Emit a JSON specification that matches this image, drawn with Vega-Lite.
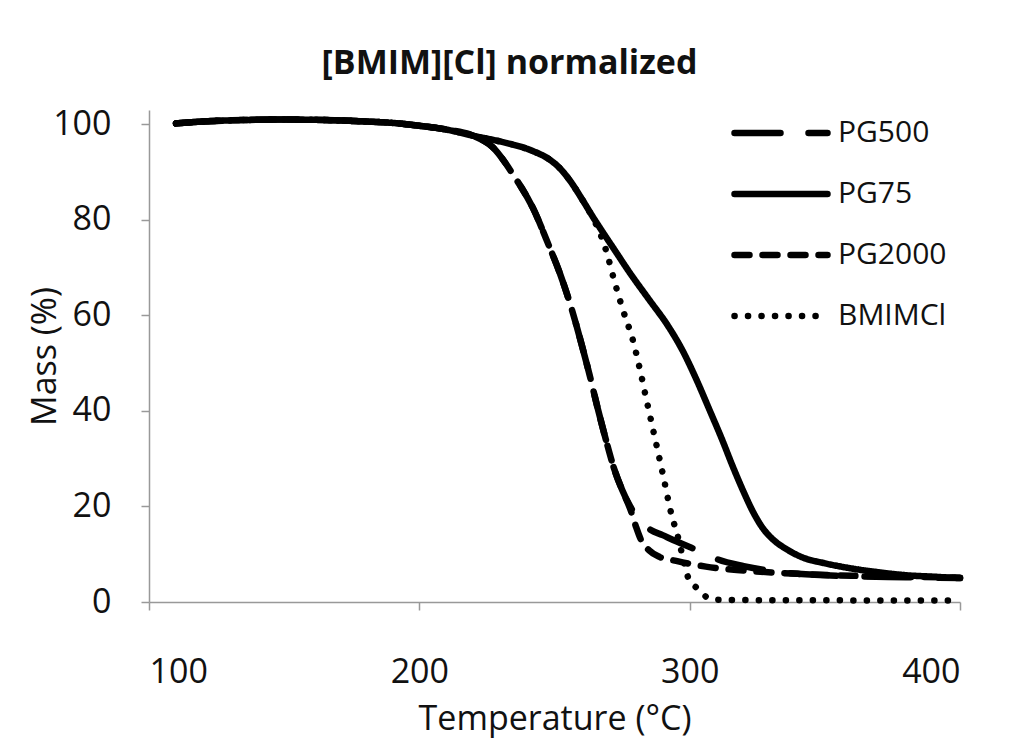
{
  "$schema": "https://vega.github.io/schema/vega-lite/v6.json",
  "width": 811,
  "height": 492,
  "autosize": "none",
  "padding": {"left": 149, "top": 110, "right": 52, "bottom": 140},
  "background": "white",
  "title": {"text": "[BMIM][Cl] normalized", "font": "Open Sans", "fontSize": 34, "fontWeight": "bold", "color": "#111", "anchor": "middle", "dx": -45, "offset": 23},
  "config": {
    "view": {"stroke": null},
    "axis": {"grid": false, "domainColor": "#999", "tickColor": "#999", "domainWidth": 1.5, "tickWidth": 1.5, "tickSize": 8, "labelFont": "Open Sans", "titleFont": "Open Sans", "labelColor": "#111", "titleColor": "#111", "labelFontSize": 34, "titleFontSize": 34, "titleFontWeight": "normal"}
  },
  "data": {"values": [
    {"series": "PG500", "T": 110, "mass": 100.2}, {"series": "PG500", "T": 120, "mass": 100.6}, {"series": "PG500", "T": 135, "mass": 100.9}, {"series": "PG500", "T": 150, "mass": 101.0}, {"series": "PG500", "T": 165, "mass": 100.9}, {"series": "PG500", "T": 180, "mass": 100.6}, {"series": "PG500", "T": 190, "mass": 100.3}, {"series": "PG500", "T": 200, "mass": 99.7}, {"series": "PG500", "T": 210, "mass": 98.9}, {"series": "PG500", "T": 220, "mass": 97.6},
    {"series": "PG500", "T": 227, "mass": 95.3}, {"series": "PG500", "T": 235, "mass": 89.2}, {"series": "PG500", "T": 242, "mass": 82.5}, {"series": "PG500", "T": 248, "mass": 74.5}, {"series": "PG500", "T": 252, "mass": 68.8}, {"series": "PG500", "T": 256, "mass": 62}, {"series": "PG500", "T": 260, "mass": 54}, {"series": "PG500", "T": 263, "mass": 47.5}, {"series": "PG500", "T": 266, "mass": 40.5}, {"series": "PG500", "T": 269, "mass": 34}, {"series": "PG500", "T": 272, "mass": 28}, {"series": "PG500", "T": 275, "mass": 23.5}, {"series": "PG500", "T": 278, "mass": 20},
    {"series": "PG500", "T": 281, "mass": 17.5}, {"series": "PG500", "T": 285, "mass": 15.3}, {"series": "PG500", "T": 290, "mass": 14}, {"series": "PG500", "T": 295, "mass": 12.7}, {"series": "PG500", "T": 300, "mass": 11.5}, {"series": "PG500", "T": 304, "mass": 10.6}, {"series": "PG500", "T": 310, "mass": 9}, {"series": "PG500", "T": 320, "mass": 7.5}, {"series": "PG500", "T": 330, "mass": 6.5}, {"series": "PG500", "T": 340, "mass": 5.9}, {"series": "PG500", "T": 360, "mass": 5.4}, {"series": "PG500", "T": 380, "mass": 5.2}, {"series": "PG500", "T": 400, "mass": 5.0},

    {"series": "PG2000", "T": 110, "mass": 100.2}, {"series": "PG2000", "T": 120, "mass": 100.6}, {"series": "PG2000", "T": 135, "mass": 100.9}, {"series": "PG2000", "T": 150, "mass": 101.0}, {"series": "PG2000", "T": 165, "mass": 100.9}, {"series": "PG2000", "T": 180, "mass": 100.6}, {"series": "PG2000", "T": 190, "mass": 100.3}, {"series": "PG2000", "T": 200, "mass": 99.7}, {"series": "PG2000", "T": 210, "mass": 98.9}, {"series": "PG2000", "T": 220, "mass": 97.6},
    {"series": "PG2000", "T": 227, "mass": 95.3}, {"series": "PG2000", "T": 235, "mass": 89.2}, {"series": "PG2000", "T": 242, "mass": 82.5}, {"series": "PG2000", "T": 248, "mass": 74.5}, {"series": "PG2000", "T": 252, "mass": 68.8}, {"series": "PG2000", "T": 256, "mass": 62}, {"series": "PG2000", "T": 260, "mass": 54}, {"series": "PG2000", "T": 263, "mass": 47.5}, {"series": "PG2000", "T": 266, "mass": 40.5}, {"series": "PG2000", "T": 269, "mass": 34}, {"series": "PG2000", "T": 272, "mass": 28}, {"series": "PG2000", "T": 275, "mass": 23.5}, {"series": "PG2000", "T": 278, "mass": 19.5},
    {"series": "PG2000", "T": 280, "mass": 16}, {"series": "PG2000", "T": 282, "mass": 13}, {"series": "PG2000", "T": 285, "mass": 10.8}, {"series": "PG2000", "T": 289, "mass": 9.4}, {"series": "PG2000", "T": 295, "mass": 8.6}, {"series": "PG2000", "T": 300, "mass": 8.0}, {"series": "PG2000", "T": 306, "mass": 7.4}, {"series": "PG2000", "T": 320, "mass": 6.6}, {"series": "PG2000", "T": 340, "mass": 5.9}, {"series": "PG2000", "T": 360, "mass": 5.5}, {"series": "PG2000", "T": 380, "mass": 5.3}, {"series": "PG2000", "T": 400, "mass": 5.1},

    {"series": "PG75", "T": 110, "mass": 100.2}, {"series": "PG75", "T": 120, "mass": 100.6}, {"series": "PG75", "T": 135, "mass": 100.9}, {"series": "PG75", "T": 150, "mass": 101.0}, {"series": "PG75", "T": 165, "mass": 100.9}, {"series": "PG75", "T": 180, "mass": 100.6}, {"series": "PG75", "T": 190, "mass": 100.3}, {"series": "PG75", "T": 200, "mass": 99.7}, {"series": "PG75", "T": 210, "mass": 98.9}, {"series": "PG75", "T": 220, "mass": 97.6},
    {"series": "PG75", "T": 230, "mass": 96.4}, {"series": "PG75", "T": 242, "mass": 94.4}, {"series": "PG75", "T": 248, "mass": 92.7}, {"series": "PG75", "T": 252, "mass": 90.8}, {"series": "PG75", "T": 256, "mass": 88.0}, {"series": "PG75", "T": 260, "mass": 84.5}, {"series": "PG75", "T": 264, "mass": 80.8}, {"series": "PG75", "T": 268, "mass": 77.3}, {"series": "PG75", "T": 272, "mass": 73.9}, {"series": "PG75", "T": 278, "mass": 68.8}, {"series": "PG75", "T": 285, "mass": 63.3}, {"series": "PG75", "T": 292, "mass": 57.8}, {"series": "PG75", "T": 297.6, "mass": 52.4}, {"series": "PG75", "T": 302, "mass": 47.2}, {"series": "PG75", "T": 307.5, "mass": 40}, {"series": "PG75", "T": 312, "mass": 34}, {"series": "PG75", "T": 316, "mass": 28.3}, {"series": "PG75", "T": 320, "mass": 23}, {"series": "PG75", "T": 323.5, "mass": 18.8}, {"series": "PG75", "T": 327, "mass": 15.5}, {"series": "PG75", "T": 331, "mass": 13}, {"series": "PG75", "T": 336, "mass": 11}, {"series": "PG75", "T": 341, "mass": 9.5}, {"series": "PG75", "T": 350, "mass": 8.1}, {"series": "PG75", "T": 359, "mass": 7.1}, {"series": "PG75", "T": 370, "mass": 6.2}, {"series": "PG75", "T": 380, "mass": 5.6}, {"series": "PG75", "T": 390, "mass": 5.3}, {"series": "PG75", "T": 400, "mass": 5.0},

    {"series": "BMIMCl", "T": 110, "mass": 100.2}, {"series": "BMIMCl", "T": 120, "mass": 100.6}, {"series": "BMIMCl", "T": 135, "mass": 100.9}, {"series": "BMIMCl", "T": 150, "mass": 101.0}, {"series": "BMIMCl", "T": 165, "mass": 100.9}, {"series": "BMIMCl", "T": 180, "mass": 100.6}, {"series": "BMIMCl", "T": 190, "mass": 100.3}, {"series": "BMIMCl", "T": 200, "mass": 99.7}, {"series": "BMIMCl", "T": 210, "mass": 98.9}, {"series": "BMIMCl", "T": 220, "mass": 97.6},
    {"series": "BMIMCl", "T": 230, "mass": 96.4}, {"series": "BMIMCl", "T": 242, "mass": 94.4}, {"series": "BMIMCl", "T": 248, "mass": 92.7}, {"series": "BMIMCl", "T": 252, "mass": 90.8}, {"series": "BMIMCl", "T": 256, "mass": 88.0}, {"series": "BMIMCl", "T": 260, "mass": 84.5}, {"series": "BMIMCl", "T": 264, "mass": 80.6}, {"series": "BMIMCl", "T": 267, "mass": 77.0}, {"series": "BMIMCl", "T": 269.4, "mass": 73}, {"series": "BMIMCl", "T": 272, "mass": 67.5}, {"series": "BMIMCl", "T": 275.4, "mass": 61}, {"series": "BMIMCl", "T": 279, "mass": 54.8}, {"series": "BMIMCl", "T": 281.6, "mass": 48.7}, {"series": "BMIMCl", "T": 284, "mass": 42.4}, {"series": "BMIMCl", "T": 286.5, "mass": 36}, {"series": "BMIMCl", "T": 290, "mass": 27}, {"series": "BMIMCl", "T": 293.5, "mass": 17.8}, {"series": "BMIMCl", "T": 295.3, "mass": 14.4}, {"series": "BMIMCl", "T": 297, "mass": 10.5}, {"series": "BMIMCl", "T": 299.4, "mass": 5.2}, {"series": "BMIMCl", "T": 302.7, "mass": 2.9}, {"series": "BMIMCl", "T": 306.4, "mass": 1.0}, {"series": "BMIMCl", "T": 310, "mass": 0.5}, {"series": "BMIMCl", "T": 320, "mass": 0.4}, {"series": "BMIMCl", "T": 350, "mass": 0.35}, {"series": "BMIMCl", "T": 400, "mass": 0.3}
  ]},
  "mark": {"type": "line", "strokeWidth": 6.5, "strokeCap": "round", "color": "black", "interpolate": "monotone"},
  "encoding": {
    "x": {"field": "T", "type": "quantitative", "scale": {"domain": [100, 400], "nice": false}, "axis": {"values": [100, 200, 300, 400], "title": "Temperature (°C)", "labelPadding": 45, "titlePadding": 13}},
    "y": {"field": "mass", "type": "quantitative", "scale": {"domain": [0, 103], "nice": false}, "axis": {"values": [0, 20, 40, 60, 80, 100], "title": "Mass (%)", "labelPadding": 30, "titlePadding": -10}},
    "strokeDash": {"field": "series", "type": "nominal",
      "scale": {"domain": ["PG500", "PG75", "PG2000", "BMIMCl"], "range": [[46, 28], [1, 0], [15, 13], [0.1, 13.4]]},
      "legend": {"orient": "none", "legendX": 582, "legendY": -6, "title": null, "symbolType": "stroke", "symbolSize": 8649, "symbolStrokeWidth": 6.5, "symbolStrokeColor": "black", "labelFont": "Open Sans", "labelFontSize": 30, "labelColor": "#111", "labelOffset": 7, "clipHeight": 58, "rowPadding": 3,
        "encode": {"symbols": {"update": {"strokeCap": {"value": "round"}}}}}
    }
  }
}
